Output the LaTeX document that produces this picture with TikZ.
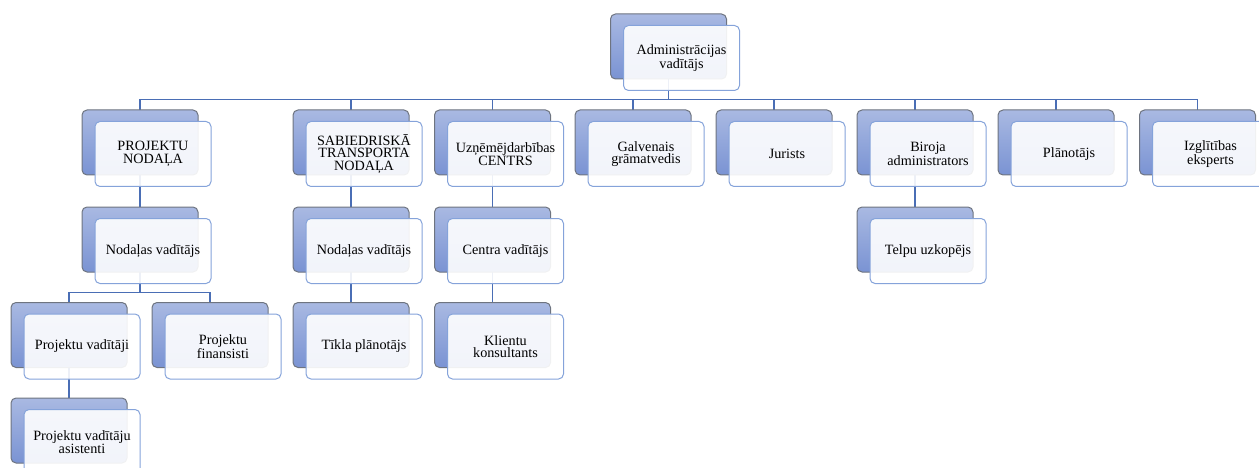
\documentclass[tikz,border=0pt]{standalone}
\usepackage{fontspec}
\setmainfont{Liberation Serif}
\usetikzlibrary{shadows,backgrounds}

\definecolor{backtop}{HTML}{A9B9E2}
\definecolor{backbottom}{HTML}{7A93D3}
\definecolor{backline}{HTML}{6E7480}
\definecolor{frontline}{HTML}{85A3DA}
\definecolor{linkblue}{HTML}{4A6EB5}

\begin{document}
\begin{tikzpicture}[x=1pt, y=-1pt,
    unit/.style={draw=frontline, line width=1pt, rounded corners=5pt,
        fill=white, fill opacity=0.9, text opacity=1,
        minimum width=116pt, minimum height=65pt, inner sep=2pt, align=center,
        font=\fontsize{14.2}{12.6}\selectfont,
        general shadow={shadow xshift=-13pt, shadow yshift=11.5pt, fill opacity=1,
            draw=backline, top color=backtop, bottom color=backbottom}},
    link/.style={draw=linkblue, line width=1.7pt}]
    \useasboundingbox (0,0) rectangle (1259,468);

    % head of the administration
    \node[unit] (adm) at (681.5,58) {Administrācijas\\vadītājs};

    % departments and posts under the head
    \node[unit] (proj) at (153,154) {PROJEKTU\\NODAĻA};
    \node[unit] (transp) at (364,154) {SABIEDRISKĀ\\TRANSPORTA\\NODAĻA};
    \node[unit] (centrs) at (505.5,154) {Uzņēmējdarbības\\CENTRS};
    \node[unit] (gramat) at (646,154) {Galvenais\\grāmatvedis};
    \node[unit] (jurists) at (787,154) {Jurists};
    \node[unit] (birojs) at (928,154) {Biroja\\administrators};
    \node[unit] (planot) at (1069,154) {Plānotājs};
    \node[unit] (izglit) at (1210.5,154) {Izglītības\\eksperts};

    % second level
    \node[unit] (projvad) at (153,251) {Nodaļas vadītājs};
    \node[unit] (transpvad) at (364,251) {Nodaļas vadītājs};
    \node[unit] (centrvad) at (505.5,251) {Centra vadītājs};
    \node[unit] (telpu) at (928,251) {Telpu uzkopējs};

    % third and fourth level
    \node[unit] (pvad) at (82,346.5) {Projektu vadītāji};
    \node[unit] (pfin) at (223,346.5) {Projektu\\finansisti};
    \node[unit] (tikls) at (364,346.5) {Tīkla plānotājs};
    \node[unit] (klienti) at (505.5,346.5) {Klientu\\konsultants};
    \node[unit] (asist) at (82,442) {Projektu vadītāju\\asistenti};

    % connectors, behind the boxes
    \begin{scope}[on background layer]
        \foreach \sub in {proj,transp,centrs,gramat,jurists,birojs,planot,izglit}
            \draw[link] ([xshift=-13pt]adm.center) -- ++(0,41.5) -| ([xshift=-13pt]\sub.center);
        \draw[link] ([xshift=-13pt]proj.center) -- ([xshift=-13pt]projvad.center);
        \draw[link] ([xshift=-13pt]transp.center) -- ([xshift=-13pt]transpvad.center);
        \draw[link] ([xshift=-13pt]centrs.center) -- ([xshift=-13pt]centrvad.center);
        \draw[link] ([xshift=-13pt]birojs.center) -- ([xshift=-13pt]telpu.center);
        \foreach \sub in {pvad,pfin}
            \draw[link] ([xshift=-13pt]projvad.center) -- ++(0,41.5) -| ([xshift=-13pt]\sub.center);
        \draw[link] ([xshift=-13pt]transpvad.center) -- ([xshift=-13pt]tikls.center);
        \draw[link] ([xshift=-13pt]centrvad.center) -- ([xshift=-13pt]klienti.center);
        \draw[link] ([xshift=-13pt]pvad.center) -- ([xshift=-13pt]asist.center);
    \end{scope}
\end{tikzpicture}
\end{document}
